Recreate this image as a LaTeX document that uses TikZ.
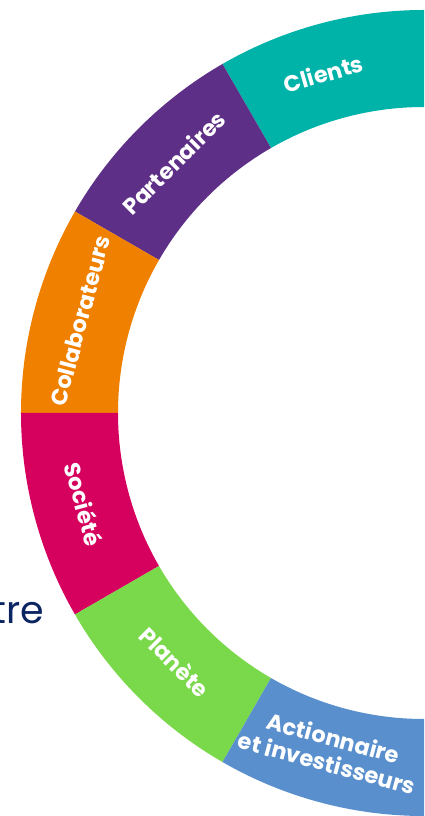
\documentclass[tikz,border=0pt]{standalone}
\usepackage{fontspec}
\setmainfont{Poppins}
\usepackage{tikz}
\usetikzlibrary{positioning}

\definecolor{clientcol}{HTML}{00B3A9}
\definecolor{partcol}{HTML}{5E2F87}
\definecolor{collabcol}{HTML}{F08000}
\definecolor{soccol}{HTML}{D6005F}
\definecolor{planetcol}{HTML}{7AD84B}
\definecolor{actcol}{HTML}{5A8FCD}
\definecolor{navycol}{HTML}{0B2562}

\begin{document}
\begin{tikzpicture}[x=1pt,y=1pt,every node/.style={inner sep=0pt},lbl/.style={text=white,font=\fontsize{22.5}{26}\selectfont\bfseries,align=center}]
	\useasboundingbox (-424,-403) rectangle (0,413);

	\fill[clientcol] (90:403) arc (90:120:403) -- (120:306) arc (120:90:306) -- cycle;
	\fill[partcol] (120:403) arc (120:150:403) -- (150:306) arc (150:120:306) -- cycle;
	\fill[collabcol] (150:403) arc (150:180:403) -- (180:306) arc (180:150:306) -- cycle;
	\fill[soccol] (180:403) arc (180:210:403) -- (210:306) arc (210:180:306) -- cycle;
	\fill[planetcol] (210:403) arc (210:240:403) -- (240:306) arc (240:210:306) -- cycle;
	\fill[actcol] (240:403) arc (240:270:403) -- (270:306) arc (270:240:306) -- cycle;

	\node[lbl,rotate=16] (clients) at (106.5:354) {Clients};
	\node[lbl,rotate=45] (partenaires) at (135:354) {Partenaires};
	\node[lbl,rotate=75] (collab) at (165:356) {Collaborateurs};
	\node[lbl,rotate=-75] (societe) at (195:352) {Société};
	\node[lbl,rotate=-45] (planete) at (225:352) {Planète};
	\node[lbl,rotate=-15] (actionnaire) at (254.5:350) {Actionnaire\\et investisseurs};

	\node[text=navycol,font=\fontsize{38}{42}\selectfont,anchor=base east] (titre) at (-380,-210) {tre};
\end{tikzpicture}
\end{document}
